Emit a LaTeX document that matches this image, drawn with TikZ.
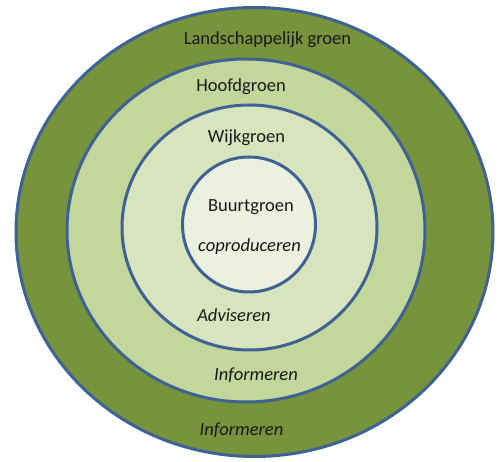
\documentclass[tikz,border=0pt]{standalone}
\usepackage{fontspec}
\setmainfont{Carlito}
\definecolor{ringline}{HTML}{3E6294}
\definecolor{ringA}{HTML}{77933C}
\definecolor{ringB}{HTML}{C3D69B}
\definecolor{ringC}{HTML}{D7E4BD}
\definecolor{ringD}{HTML}{EBF1DE}
\definecolor{txt}{HTML}{1A1A1A}
\tikzset{
  ring/.style={draw=ringline, line width=3pt},
  lbl/.style={text=txt, font=\fontsize{18.5}{20}\selectfont, inner sep=0pt, anchor=center},
  ilbl/.style={lbl, font=\fontsize{18.5}{20}\selectfont\itshape}
}
\begin{document}
\begin{tikzpicture}[x=1pt,y=-1pt]
\useasboundingbox (0,0) rectangle (501,462);
\fill[white] (0,0) rectangle (501,462);
\filldraw[ring, fill=ringA] (254.5,232) ellipse [x radius=238.5, y radius=224.5];
\filldraw[ring, fill=ringB] (246,230.5) ellipse [x radius=179, y radius=171.5];
\filldraw[ring, fill=ringC] (249.5,227.5) ellipse [x radius=127.5, y radius=122.5];
\filldraw[ring, fill=ringD] (249,224.5) ellipse [x radius=66.5, y radius=67.5];
\node[lbl] (land) at (267.5,40) {Landschappelijk groen};
\node[lbl] (hoofd) at (241,87) {Hoofdgroen};
\node[lbl] (wijk) at (246.5,138) {Wijkgroen};
\node[lbl] (buurt) at (251,207) {Buurtgroen};
\node[ilbl] (copro) at (249.5,247) {coproduceren};
\node[ilbl] (advis) at (234,315) {Adviseren};
\node[ilbl] (info1) at (256,375) {Informeren};
\node[ilbl] (info2) at (241.5,430) {Informeren};
\end{tikzpicture}
\end{document}
